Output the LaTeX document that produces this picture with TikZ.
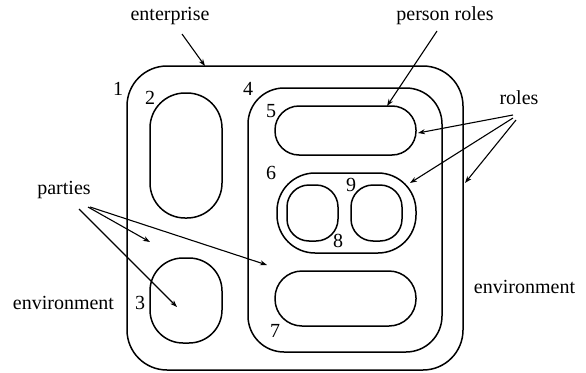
\documentclass[tikz,border=0pt]{standalone}
\usepackage{fontspec}
\setmainfont{Liberation Serif}
\usetikzlibrary{arrows.meta}
\tikzset{
  region/.style={draw, line width=1.5pt, inner sep=0pt},
  lbl/.style={font=\rmfamily\fontsize{20}{22}\selectfont, inner sep=1pt},
  num/.style={font=\rmfamily\fontsize{20}{22}\selectfont, inner sep=0pt},
  ptr/.style={line width=1.1pt, -{Stealth[length=7pt,width=5pt]}}
}
\begin{document}
\begin{tikzpicture}[x=1pt,y=-1pt]
\useasboundingbox (0,0) rectangle (586,372);

% labels
\node[lbl] (lent) at (170,16) {enterprise};
\node[lbl] (lper) at (445,16) {person roles};
\node[lbl] (lrol) at (519,98) {roles};
\node[lbl] (lpar) at (64,190) {parties};
\node[lbl] (lenvl) at (63.5,303) {environment};
\node[lbl] (lenvr) at (524.5,287) {environment};

% region numbers
\node[num] (n1) at (118,89) {1};
\node[num] (n2) at (150,98) {2};
\node[num] (n3) at (140,303) {3};
\node[num] (n4) at (248,89) {4};
\node[num] (n5) at (271,111) {5};
\node[num] (n6) at (271,173) {6};
\node[num] (n7) at (275,331) {7};
\node[num] (n8) at (338,241) {8};
\node[num] (n9) at (351,185) {9};

% nested regions
\node[region, minimum width=336pt, minimum height=304pt, rounded corners=40pt] (enterprise) at (295,218) {};
\node[region, minimum width=194pt, minimum height=264pt, rounded corners=36pt] (org) at (345,220) {};
\node[region, minimum width=72pt, minimum height=125pt, rounded corners=35pt] (r2) at (186,155.5) {};
\node[region, minimum width=72pt, minimum height=85pt, rounded corners=33pt] (r3) at (186,300.5) {};
\node[region, minimum width=141pt, minimum height=49pt, rounded corners=24pt] (r5) at (345.5,130.5) {};
\node[region, minimum width=139pt, minimum height=80pt, rounded corners=38pt] (r6) at (346.5,213) {};
\node[region, minimum width=51pt, minimum height=56pt, rounded corners=22pt] (r8) at (312.5,213) {};
\node[region, minimum width=51pt, minimum height=56pt, rounded corners=22pt] (r9) at (376.5,213) {};
\node[region, minimum width=141pt, minimum height=55pt, rounded corners=27pt] (r7) at (345.5,298.5) {};

% arrow end points
\coordinate (ent) at (205,66);
\coordinate (per) at (387,106);
\coordinate (ro1) at (418,133);
\coordinate (ro2) at (410,183);
\coordinate (ro3) at (465,183);
\coordinate (pa1) at (150,242);
\coordinate (pa2) at (267,265);
\coordinate (pa3) at (177,307);

% pointers
\draw[ptr] (182,34) -- (ent);
\draw[ptr] (437,31) -- (per);
\draw[ptr] (513,115) -- (ro1);
\draw[ptr] (513,118) -- (ro2);
\draw[ptr] (516,120) -- (ro3);
\draw[ptr] (88,207) -- (pa1);
\draw[ptr] (90,207) -- (pa2);
\draw[ptr] (79,209) -- (pa3);
\end{tikzpicture}
\end{document}
